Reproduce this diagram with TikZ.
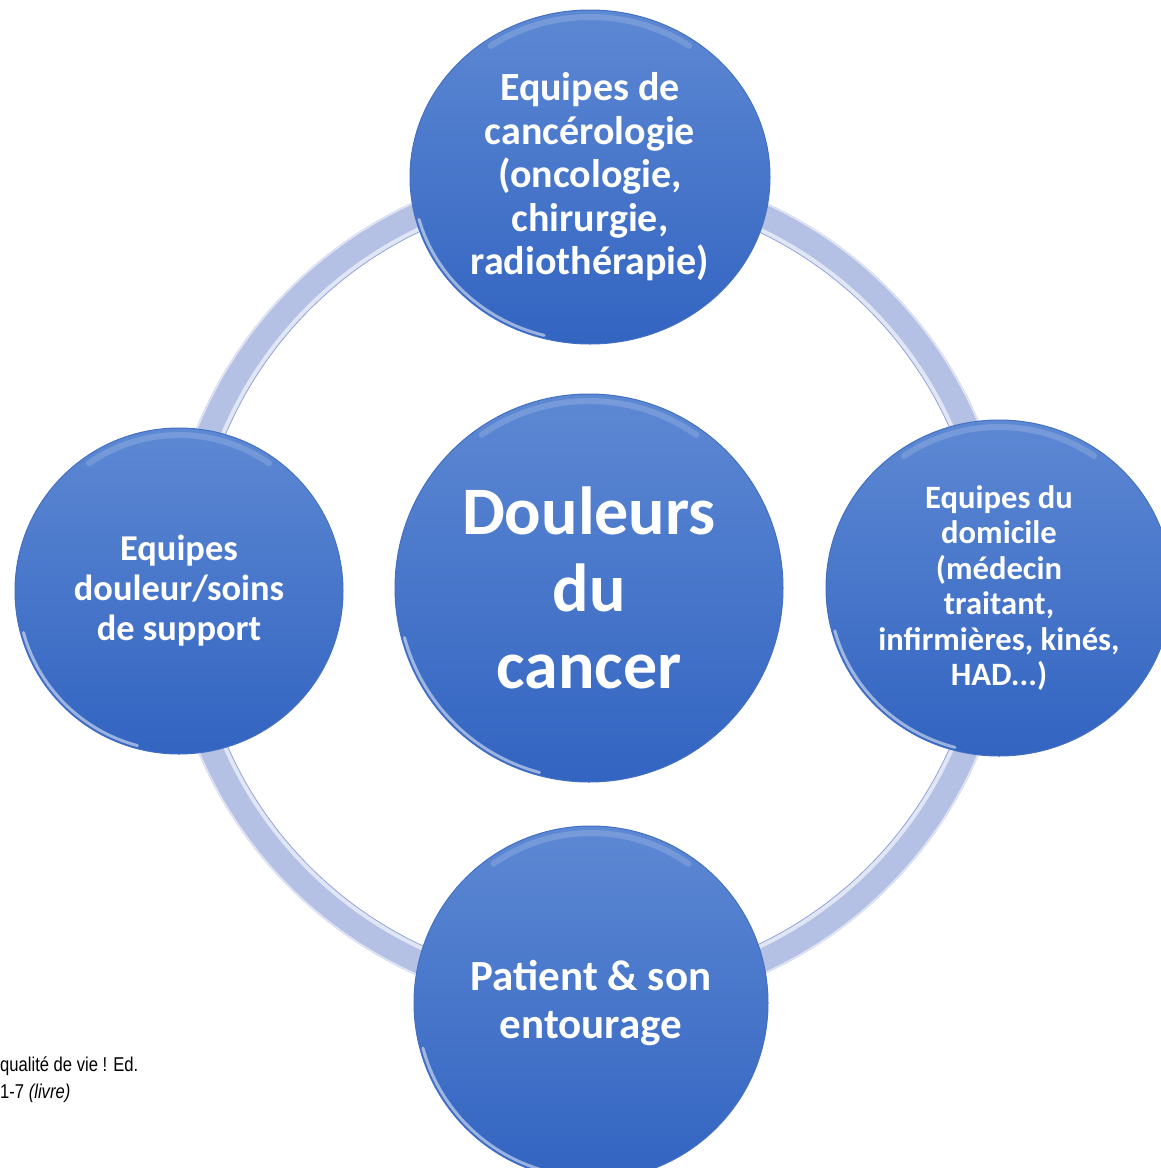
\documentclass[tikz,border=0pt]{standalone}
\usepackage{fontspec}
\setmainfont{Carlito}
\newfontfamily\notefont[FakeStretch=0.83]{Liberation Sans}
\usetikzlibrary{shapes.geometric}
\definecolor{discTop}{HTML}{5D88D3}
\definecolor{discBottom}{HTML}{3264C1}
\definecolor{discRim}{HTML}{4470C2}
\definecolor{ringBlue}{HTML}{B5C0E5}
\definecolor{ringEdge}{HTML}{8E9FD8}

\begin{document}
\begin{tikzpicture}[
				x=1pt, y=1pt,
				disc/.style={ellipse,inner sep=-4pt,top color=discTop,bottom color=discBottom,
					draw=discRim,line width=1pt,text=white,align=center},
				note/.style={inner sep=0,align=left,font=\notefont\fontsize{20}{27}\selectfont}]
			\tikzstyle{ring}=[draw=ringBlue,line width=28pt]
			\tikzstyle{glint}=[white,line width=3pt,opacity=.5,line cap=round]
			\tikzstyle{sheen}=[white,line width=6pt,opacity=.16,line cap=round]
			\useasboundingbox (0,0) rectangle (1160,-1168);
			\node[disc,minimum width=388pt,minimum height=388pt,
				font=\bfseries\fontsize{68}{77}\selectfont] (hub) at (589,-588) {Douleurs\\du\\cancer};
			\draw[ring] (hub.center) circle[radius=410];
			\draw[ringBlue!40!white,line width=4pt] (hub.center) circle[radius=397];
			\draw[ringEdge,line width=.8pt] (hub.center) circle[radius=394.5];
			\draw[white,line width=1.5pt,opacity=.6] (hub.center) circle[radius=423];
			\node[disc,minimum width=360pt,minimum height=334pt,
				font=\bfseries\fontsize{40}{43.5}\selectfont] (cancero) at (590,-177)
				{Equipes de\\cancérologie\\(oncologie,\\chirurgie,\\radiothérapie)};
			\node[disc,minimum width=328pt,minimum height=326pt,
				font=\bfseries\fontsize{36.4}{40}\selectfont] (support) at (179,-591)
				{Equipes\\douleur/soins\\de support};
			\node[disc,minimum width=346pt,minimum height=336pt,
				font=\bfseries\fontsize{32.6}{35.5}\selectfont] (domicile) at (999,-588)
				{Equipes du\\domicile\\(médecin\\traitant,\\infirmières, kinés,\\HAD...)};
			\node[disc,minimum width=354pt,minimum height=354pt,
				font=\bfseries\fontsize{43}{48}\selectfont] (patient) at (591,-1003)
				{Patient \& son\\entourage};
			\foreach \n/\rx/\ry in {hub/194/194,cancero/180/167,support/164/163,domicile/173/168,patient/177/177}{
				\draw[glint] ([shift={(195:\rx-3 and \ry-3)}]\n.center)
					arc[start angle=195,end angle=255,x radius=\rx-3,y radius=\ry-3];
				\draw[sheen] ([shift={(55:\rx-7 and \ry-7)}]\n.center)
					arc[start angle=55,end angle=125,x radius=\rx-7,y radius=\ry-7];
			}
			\node[note,anchor=base west] (source) at (0,-1098) {qualité de vie ! Ed.\\1-7 \textit{(livre)}};
		\end{tikzpicture}
\end{document}
